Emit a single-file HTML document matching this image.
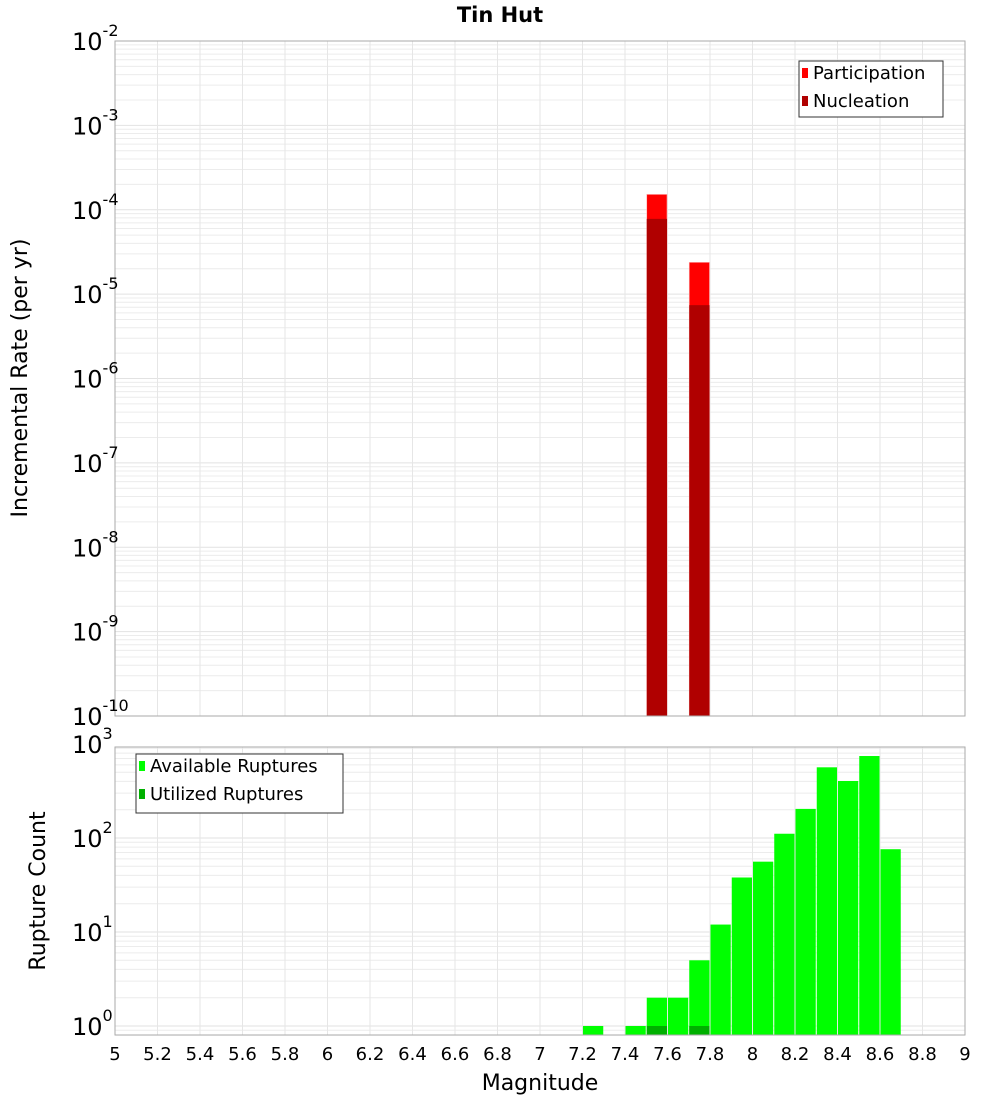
<!DOCTYPE html>
<html><head><meta charset="utf-8"><style>
body{margin:0;background:#fff;}
svg{display:block;font-family:"DejaVu Sans","Liberation Sans",sans-serif;}
</style></head><body>
<svg id="chart" width="1000" height="1100" viewBox="0 0 1000 1100">
<text x="500" y="22" text-anchor="middle" font-weight="bold" font-size="21">Tin Hut</text>
<g id="gtop"></g>
<g id="gbot"></g>
<text transform="translate(27,378) rotate(-90)" text-anchor="middle" font-size="22">Incremental Rate (per yr)</text>
<text transform="translate(45,891) rotate(-90)" text-anchor="middle" font-size="22">Rupture Count</text>
<text x="540" y="1090" text-anchor="middle" font-size="22">Magnitude</text>
</svg>
<script>
const partMags=[7.55,7.75];
const partRates=[1.52e-4,2.38e-5];
const nuclMags=[7.55,7.75];
const nuclRates=[7.8e-5,7.4e-6];
const countMags=[7.25,7.35,7.45,7.55,7.65,7.75,7.85,7.95,8.05,8.15,8.25,8.35,8.45,8.55,8.65];
const availCounts=[1,0,1,2,2,5,12,38,56,111,204,565,404,745,76];
const usedCounts=[0,0,0,1,0,1,0,0,0,0,0,0,0,0,0];
const xTicks=[5,5.2,5.4,5.6,5.8,6,6.2,6.4,6.6,6.8,7,7.2,7.4,7.6,7.8,8,8.2,8.4,8.6,8.8,9];
const topExps=[-2,-3,-4,-5,-6,-7,-8,-9,-10];
const botExps=[3,2,1,0];

const NS="http://www.w3.org/2000/svg";
const X0=115,X1=965;
const xs=m=>X0+(m-5)/(9-5)*(X1-X0);
const T0=41,T1=716;
const yTop=v=>T0+(-2-Math.log10(v))/8*(T1-T0);
const B0=747,B1=1035,BDEC=94,BZ=1026;
const yBot=v=>BZ-Math.log10(v)*BDEC;
function mk(parent,tag,attrs){const e=document.createElementNS(NS,tag);for(const k in attrs)e.setAttribute(k,attrs[k]);parent.appendChild(e);return e;}
const gTop=document.getElementById('gtop'),gBot=document.getElementById('gbot');

function grid(g,y0,y1,yfun,emin,emax){
  for(let e=emin;e<emax;e++)for(let k=1;k<10;k++){const y=yfun(k*Math.pow(10,e));if(y<y0-0.5||y>y1+0.5)continue;
    const l=mk(g,'line',{x1:X0,x2:X1,y1:y,y2:y,stroke:k==1?'#e2e2e2':'#ececec','stroke-width':1});
    
    }
  xTicks.forEach(t=>{const x=xs(t);const l=mk(g,'line',{x1:x,x2:x,y1:y0,y2:y1,stroke:'#e6e6e6','stroke-width':1});
    
    });
}
grid(gTop,T0,T1,yTop,-10,-1);
grid(gBot,B0,B1,yBot,-1,3);

const bw=(xs(5.1)-xs(5))-1;
partMags.forEach((m,i)=>{const y=yTop(partRates[i]);const r=mk(gTop,'rect',{x:xs(m-0.05)+0.5,y:y,width:bw,height:T1-y,fill:'#ff0000',stroke:'#ffb0b0','stroke-width':0.6});
  
  });
nuclMags.forEach((m,i)=>{const y=yTop(nuclRates[i]);const r=mk(gTop,'rect',{x:xs(m-0.05)+0.5,y:y,width:bw,height:T1-y,fill:'#b00000'});
  
  });
countMags.forEach((m,i)=>{
  if(availCounts[i]>0){const y=Math.max(B0,yBot(availCounts[i]));const r=mk(gBot,'rect',{x:xs(m-0.05)+0.5,y:y,width:bw,height:B1-y,fill:'#00ff00'});
    
    }
  if(usedCounts[i]>0){const y=yBot(usedCounts[i]);const r=mk(gBot,'rect',{x:xs(m-0.05)+0.5,y:y,width:bw,height:B1-y,fill:'#00b000'});
    
    }
});

[[gTop,T0,T1],[gBot,B0,B1]].forEach(([g,a,b])=>{const r=mk(g,'rect',{x:X0,y:a,width:X1-X0,height:b-a,fill:'none',stroke:'#aaaaaa','stroke-width':1});
  
  });

function ylab(g,y,e){const t=mk(g,'text',{x:72,y:y+9,'text-anchor':'start','font-size':24});
  
  
  t.textContent='10';
  const s=mk(t,'tspan',{dy:-14,'font-size':16});s.textContent=String(e);}
topExps.forEach(e=>ylab(gTop,yTop(Math.pow(10,e)),e));
botExps.forEach(e=>ylab(gBot,yBot(Math.pow(10,e)),e));

xTicks.forEach(t=>{const l=mk(gBot,'text',{x:xs(t),y:1060,'text-anchor':'middle','font-size':18});
  
  
  l.textContent=String(t);});

function legend(g,x,y,w,h,items){const b=mk(g,'rect',{x:x,y:y,width:w,height:h,fill:'#fff',stroke:'#333','stroke-width':1});
  
  
  items.forEach((it,i)=>{const cy=y+7+i*28;
    const s=mk(g,'rect',{x:x+3,y:cy,width:6,height:10,fill:it[1]});
    
    
    const t=mk(g,'text',{x:x+14,y:cy+11,'font-size':18});
    
    
    t.textContent=it[0];});}
legend(gTop,799,61,144,56,[['Participation','#ff0000'],['Nucleation','#b00000']]);
legend(gBot,136,754,207,59,[['Available Ruptures','#00ff00'],['Utilized Ruptures','#00b000']]);
</script>
</body></html>
